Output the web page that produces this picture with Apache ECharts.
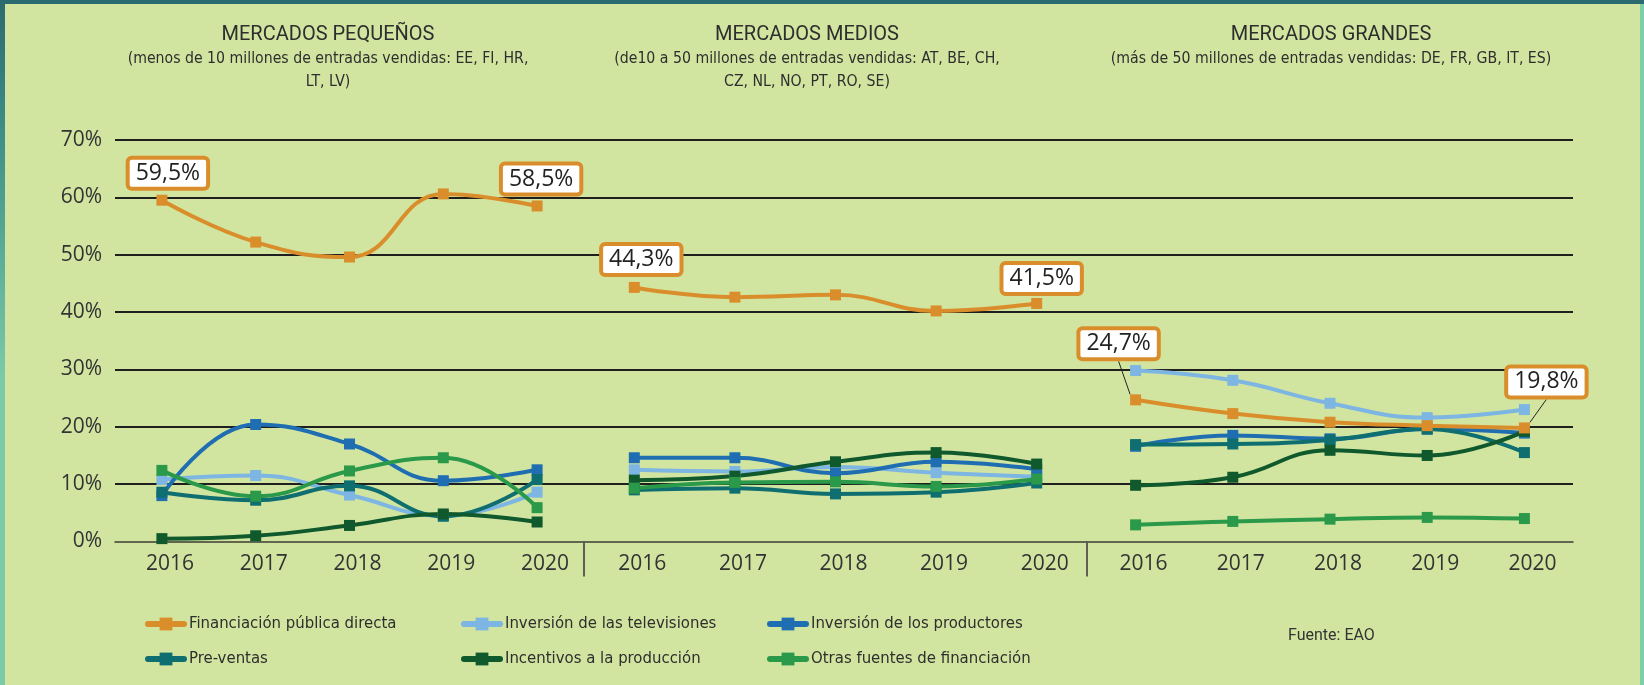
<!DOCTYPE html>
<html>
<head>
<meta charset="utf-8">
<script src="https://cdn.jsdelivr.net/npm/echarts@6/dist/echarts.min.js"></script>
<style>
html, body { margin: 0; padding: 0; }
#main {
  width: 1644px;
  height: 685px;
  background:
    linear-gradient(to bottom, #2b6b6f 0%, #3f8f88 20%, #7ccaa8 55%, #7ccaa8 100%) left top / 5px 100% no-repeat,
    linear-gradient(#2b6a6e, #2b6a6e) left top / 100% 4px no-repeat,
    linear-gradient(#7dcfa8, #7dcfa8) right top / 4px 100% no-repeat,
    #d2e5a0;
}
</style>
</head>
<body>
<div id="main"></div>
<script>
// categorias y paneles
const years = ['2016', '2017', '2018', '2019', '2020'];
const panelTitles = ['MERCADOS PEQUEÑOS', 'MERCADOS MEDIOS', 'MERCADOS GRANDES'];
const panelSubtitles = [
  '(menos de 10 millones de entradas vendidas: EE, FI, HR,\nLT, LV)',
  '(de10 a 50 millones de entradas vendidas: AT, BE, CH,\nCZ, NL, NO, PT, RO, SE)',
  '(más de 50 millones de entradas vendidas: DE, FR, GB, IT, ES)'
];

// valores (%) por panel: [pequeños, medios, grandes]
const financiacionPublica = [[59.5, 52.2, 49.6, 60.6, 58.5], [44.3, 42.6, 43.0, 40.2, 41.5], [24.7, 22.3, 20.8, 20.2, 19.8]];
const inversionTV = [[10.8, 11.5, 8.1, 4.5, 8.6], [12.5, 12.2, 13.0, 12.0, 11.3], [29.8, 28.1, 24.1, 21.6, 23.0]];
const inversionProductores = [[8.0, 20.4, 17.0, 10.6, 12.5], [14.6, 14.6, 11.9, 13.9, 12.6], [16.6, 18.5, 17.9, 19.6, 18.9]];
const preventas = [[8.6, 7.2, 9.7, 4.4, 10.8], [9.0, 9.3, 8.3, 8.6, 10.2], [16.9, 17.0, 17.7, 19.6, 15.5]];
const incentivos = [[0.5, 1.0, 2.8, 4.8, 3.4], [10.7, 11.4, 13.9, 15.5, 13.5], [9.8, 11.2, 15.9, 15.0, 19.2]];
const otrasFuentes = [[12.4, 7.9, 12.3, 14.6, 5.9], [9.3, 10.3, 10.4, 9.6, 10.9], [2.9, 3.5, 3.9, 4.2, 4.0]];

const seriesDefs = [
  { name: 'Financiación pública directa', data: financiacionPublica, color: '#DA8E2B' },
  { name: 'Inversión de las televisiones', data: inversionTV, color: '#7DB5E3' },
  { name: 'Inversión de los productores', data: inversionProductores, color: '#1F6EB2' },
  { name: 'Pre-ventas', data: preventas, color: '#0F6E70' },
  { name: 'Incentivos a la producción', data: incentivos, color: '#10592D' },
  { name: 'Otras fuentes de financiación', data: otrasFuentes, color: '#2A9949' }
];

const numFont = "'Open Sans', sans-serif";
const narrowFont = "'Liberation Sans Narrow', 'DejaVu Sans Condensed', sans-serif";
const titleFont = "Roboto, sans-serif";

// layout
const grids = [
  { left: 115, width: 469 },
  { left: 584, width: 503 },
  { left: 1087, width: 486 }
];
const titleCenters = [323, 802, 1326];
const labelOffsets = [[[6, -27], [4, -27]], [[7, -28], [5, -25]], [[-17, -56], [22, -46]]];
const legendColumns = [
  ['Financiación pública directa', 'Pre-ventas'],
  ['Inversión de las televisiones', 'Incentivos a la producción'],
  ['Inversión de los productores', 'Otras fuentes de financiación']
];
const legendLefts = [140, 456, 762];

const chart = echarts.init(document.getElementById('main'));

const series = [];
[0, 1, 2].forEach(function (p) {
  seriesDefs.forEach(function (d, k) {
    const isMain = k === 0;
    const vals = d.data[p];
    series.push({
      type: 'line',
      name: d.name,
      xAxisIndex: p,
      yAxisIndex: p,
      smooth: 0.45,
      symbol: 'rect',
      symbolSize: 11,
      z: isMain ? 4 : 3,
      lineStyle: { width: 4, color: d.color },
      itemStyle: { color: d.color },
      emphasis: { disabled: true },
      data: vals.map(function (v, i) {
        if (isMain && (i === 0 || i === vals.length - 1)) {
          return { value: v, label: { show: true } };
        }
        return v;
      }),
      label: {
        show: false,
        position: 'inside',
        formatter: function (prm) { return prm.value.toFixed(1).replace('.', ',') + '%'; },
        backgroundColor: '#ffffff',
        borderColor: '#DA8E2B',
        borderWidth: 4,
        borderRadius: 2,
        padding: [3, 6, 1, 6],
        fontFamily: numFont,
        fontSize: 23,
        color: '#222'
      },
      labelLayout: isMain ? function (prm) {
        const off = labelOffsets[p][prm.dataIndex === 0 ? 0 : 1];
        return { dx: off[0], dy: off[1] };
      } : null,
      labelLine: { show: isMain && p === 2, lineStyle: { color: '#222', width: 1 } }
    });
  });
});

const option = {
  animation: false,
  title: panelTitles.map(function (t, i) {
    return {
      text: t,
      subtext: panelSubtitles[i],
      left: titleCenters[i],
      textAlign: 'center',
      top: 18,
      itemGap: 0,
      textStyle: { fontFamily: titleFont, fontSize: 20, fontWeight: 'normal', color: '#2e2e2e', lineHeight: 24 },
      subtextStyle: { fontFamily: narrowFont, fontSize: 15.7, lineHeight: 23, color: '#2e2e2e' }
    };
  }),
  grid: grids.map(function (g) {
    return { left: g.left, width: g.width, top: 140, height: 401.5 };
  }),
  xAxis: [0, 1, 2].map(function (i) {
    return {
      type: 'category',
      gridIndex: i,
      data: years,
      boundaryGap: true,
      axisLine: { show: true, lineStyle: { color: '#3d3d33', width: 1.5 } },
      axisTick: i === 1
        ? { show: true, interval: function (idx) { return idx === 0; }, length: 35, lineStyle: { color: '#5f5f55', width: 2 } }
        : { show: false },
      axisLabel: { fontFamily: numFont, fontSize: 21, color: '#333', margin: 12, padding: [0, 0, 0, 16] }
    };
  }),
  yAxis: [0, 1, 2].map(function (i) {
    return {
      type: 'value',
      gridIndex: i,
      min: 0,
      max: 70,
      interval: 10,
      axisLabel: { show: i === 0, formatter: '{value}%', fontFamily: numFont, fontSize: 21, color: '#333', margin: 13 },
      axisLine: { show: false },
      axisTick: { show: false },
      splitLine: { show: true, showMinLine: false, lineStyle: { color: '#1f1f1f', width: 2 } }
    };
  }),
  legend: legendColumns.map(function (names, c) {
    return {
      data: names,
      orient: 'vertical',
      left: legendLefts[c],
      top: 609,
      itemGap: 15,
      itemWidth: 36,
      itemHeight: 16,
      selectedMode: false,
      lineStyle: { width: 6, cap: 'round' },
      textStyle: { fontFamily: narrowFont, fontSize: 16.6, color: '#2e2e2e', lineHeight: 20 }
    };
  }),
  graphic: [{
    type: 'text',
    left: 1288,
    top: 628,
    style: { text: 'Fuente: EAO', font: '16px Roboto, sans-serif', fill: '#333' }
  }],
  series: series
};

chart.setOption(option);
</script>
</body>
</html>
